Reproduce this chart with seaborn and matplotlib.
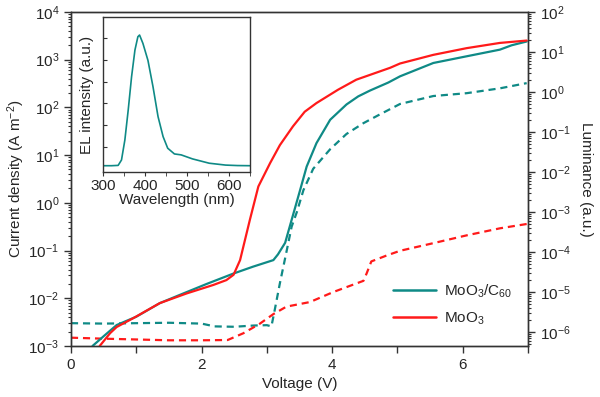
import matplotlib
matplotlib.use("Agg")
import matplotlib.pyplot as plt
import matplotlib.ticker as mticker
import numpy as np
import seaborn as sns

# Current density, MoO3/C60 (solid teal), A m^-2
v_c60_j = [0.33, 0.50, 0.70, 1.00, 1.36, 1.72, 2.08, 2.49, 2.79, 3.10, 3.17, 3.28,
           3.38, 3.51, 3.61, 3.76, 3.97, 4.22, 4.40, 4.58, 4.86, 5.04, 5.55, 6.06,
           6.57, 6.75, 6.98]
j_c60 = [1.0e-3, 1.6e-3, 2.75e-3, 4.1e-3, 7.9e-3, 1.26e-2, 2.0e-2, 3.3e-2, 4.6e-2,
         6.3e-2, 8.3e-2, 0.145, 0.44, 1.86, 5.75, 17.8, 55, 115, 170, 225, 331, 447,
         851, 1175, 1620, 2000, 2400]

# Current density, MoO3 (solid red)
v_moo3_j = [0.44, 0.60, 0.70, 0.95, 1.36, 1.77, 2.18, 2.38, 2.49, 2.59, 2.74, 2.87,
            3.05, 3.20, 3.40, 3.58, 3.76, 4.09, 4.37, 4.89, 5.04, 5.55, 6.06, 6.57,
            6.98]
j_moo3 = [1.0e-3, 1.86e-3, 2.5e-3, 3.8e-3, 7.9e-3, 1.26e-2, 1.9e-2, 2.4e-2, 3.1e-2,
          6.3e-2, 0.44, 2.2, 6.8, 16.2, 40, 81, 123, 234, 380, 676, 830, 1260, 1740,
          2240, 2510]

# Luminance, MoO3/C60 (dashed teal), a.u.
v_c60_l = [0.0, 0.5, 1.0, 1.5, 2.0, 2.2, 2.5, 2.8, 3.0, 3.07, 3.12, 3.20, 3.30,
           3.38, 3.46, 3.56, 3.71, 3.97, 4.22, 4.48, 4.71, 5.04, 5.55, 6.06, 6.57,
           6.98]
l_c60 = [1.66e-6, 1.62e-6, 1.66e-6, 1.70e-6, 1.62e-6, 1.38e-6, 1.35e-6, 1.45e-6,
         1.48e-6, 1.38e-6, 3.5e-6, 1.66e-5, 1.0e-4, 4.3e-4, 1.0e-3, 3.5e-3, 1.2e-2,
         3.7e-2, 8.9e-2, 0.166, 0.263, 0.5, 0.79, 0.93, 1.23, 1.66]

# Luminance, MoO3 (dashed red)
v_moo3_l = [0.0, 0.5, 1.0, 1.5, 2.0, 2.4, 2.64, 2.89, 3.10, 3.30, 3.66, 4.02, 4.48,
            4.53, 4.60, 4.83, 5.04, 5.55, 6.06, 6.57, 6.98]
l_moo3 = [7.2e-7, 6.8e-7, 6.5e-7, 6.2e-7, 6.2e-7, 6.3e-7, 9.3e-7, 1.6e-6, 2.8e-6,
          4.3e-6, 5.6e-6, 1.0e-5, 1.9e-5, 2.95e-5, 5.8e-5, 8.1e-5, 1.07e-4, 1.66e-4,
          2.6e-4, 3.9e-4, 5.0e-4]

# Inset EL spectrum
wavelength = [300, 320, 336, 344, 352, 360, 368, 376, 383, 387, 395, 407, 419, 431,
              443, 454, 470, 486, 513, 553, 592, 620, 650]
el_intensity = [0.04, 0.04, 0.042, 0.077, 0.206, 0.40, 0.615, 0.787, 0.873, 0.884,
                0.83, 0.72, 0.55, 0.357, 0.228, 0.153, 0.116, 0.11, 0.084, 0.056,
                0.044, 0.041, 0.04]

labels = ["MoO$_3$/C$_{60}$", "MoO$_3$"]
teal = "#0f8a86"
red = "#ff1a1a"

sns.set_style("ticks")
plt.rcParams["font.family"] = ["Liberation Sans", "DejaVu Sans"]
plt.rcParams["mathtext.fontset"] = "custom"
plt.rcParams["mathtext.rm"] = "Liberation Sans"
plt.rcParams["mathtext.it"] = "Liberation Sans:italic"
plt.rcParams["mathtext.bf"] = "Liberation Sans:bold"
plt.rcParams["font.size"] = 11

fig = plt.figure(figsize=(6, 3.97), dpi=100)
ax = fig.add_axes([0.1183, 0.1285, 0.7617, 0.8415])
ax2 = ax.twinx()

sns.lineplot(x=v_c60_j, y=j_c60, ax=ax, color=teal, lw=1.6, sort=False)
sns.lineplot(x=v_moo3_j, y=j_moo3, ax=ax, color=red, lw=1.6, sort=False)
sns.lineplot(x=v_c60_l, y=l_c60, ax=ax2, color=teal, lw=1.6, sort=False,
             linestyle=(0, (3.2, 2.2)))
sns.lineplot(x=v_moo3_l, y=l_moo3, ax=ax2, color=red, lw=1.6, sort=False,
             linestyle=(0, (3.2, 2.2)))

ax.set_xlim(0, 7)
ax.set_yscale("log")
ax.set_ylim(1e-3, 1e4)
ax2.set_yscale("log")
ax2.set_ylim(10 ** -6.35, 1e2)

ax.xaxis.set_major_locator(mticker.MultipleLocator(2))
ax.xaxis.set_minor_locator(mticker.MultipleLocator(1))
ax.yaxis.set_major_locator(mticker.LogLocator(base=10, numticks=20))
ax.yaxis.set_minor_locator(mticker.LogLocator(base=10, subs=np.arange(2, 10), numticks=20))
ax2.yaxis.set_major_locator(mticker.LogLocator(base=10, numticks=20))
ax2.yaxis.set_minor_locator(mticker.LogLocator(base=10, subs=np.arange(2, 10), numticks=20))
ax2.yaxis.set_minor_formatter(mticker.NullFormatter())
ax.yaxis.set_minor_formatter(mticker.NullFormatter())

for a in (ax, ax2):
    a.tick_params(which="major", direction="out", length=5, width=1, labelsize=11,
                  color="#333333")
    a.tick_params(which="minor", direction="out", length=2.5, width=0.8,
                  color="#333333")
    for s in a.spines.values():
        s.set_linewidth(1.0)
        s.set_color("#333333")
ax.tick_params(axis="x", which="minor", length=5, width=1)
ax.tick_params(right=False, top=False, which="both")

ax.set_xlabel("Voltage (V)", fontsize=11)
ax.set_ylabel("Current density (A m$^{-2}$)", fontsize=11, labelpad=1)
ax2.set_ylabel("Luminance (a.u.)", fontsize=11, rotation=270, labelpad=16)
ax.set_zorder(ax2.get_zorder() + 1)
ax.patch.set_visible(False)

handles = [plt.Line2D([], [], color=teal, lw=1.8), plt.Line2D([], [], color=red, lw=1.8)]
ax.legend(handles, labels, loc="upper left", bbox_to_anchor=(0.705, 0.19),
          frameon=False, borderpad=0, borderaxespad=0, handlelength=2.8,
          handletextpad=0.5, labelspacing=0.7, fontsize=11)

# Inset EL spectrum
ins = fig.add_axes([0.1717, 0.567, 0.245, 0.39])
sns.lineplot(x=wavelength, y=el_intensity, ax=ins, color=teal, lw=1.2, sort=False)
ins.set_xlim(300, 650)
ins.set_ylim(0, 1)
ins.xaxis.set_major_locator(mticker.MultipleLocator(100))
ins.xaxis.set_minor_locator(mticker.MultipleLocator(50))
ins.set_yticks(np.arange(0.163, 0.95, 0.14))
ins.set_yticklabels([])
ins.tick_params(axis="x", which="both", direction="out", length=3, labelsize=11,
                color="#333333", pad=2)
ins.tick_params(axis="y", direction="in", length=3, color="#333333")
for s in ins.spines.values():
    s.set_linewidth(1.0)
    s.set_color("#333333")
ins.set_xlabel("Wavelength (nm)", fontsize=11, labelpad=0)
ins.set_ylabel("EL intensity (a.u.)", fontsize=11, labelpad=3)

fig.savefig("out.png", dpi=100)
